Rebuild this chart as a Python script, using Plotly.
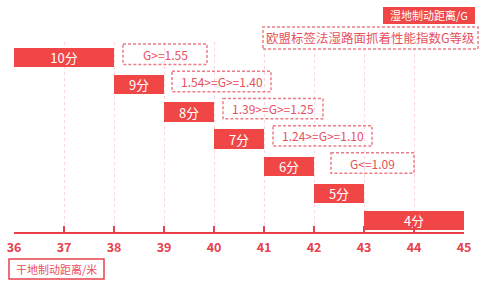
import plotly.graph_objects as go

# ---- data ----
scores = ["10分", "9分", "8分", "7分", "6分", "5分", "4分"]
dry_start = [36, 38, 39, 40, 41, 42, 43]
dry_end = [38, 39, 40, 41, 42, 43, 45]
g_labels = ["G>=1.55", "1.54>=G>=1.40", "1.39>=G>=1.25", "1.24>=G>=1.10", "G<=1.09"]
tick_vals = [36, 37, 38, 39, 40, 41, 42, 43, 44, 45]
title_text = "欧盟标签法湿路面抓着性能指数G等级"
wet_label = "湿地制动距离/G"
dry_label = "干地制动距离/米"

# ---- styles / layout ----
RED = "#F04646"
AXIS_RED = "#E8404C"
PINK_TXT = "#E8505E"
DASH_COL = "#EC7D88"
GRID_COL = "#F8D6DA"
FONT = "Noto Sans CJK SC, Noto Sans, sans-serif"

W, H = 485, 281
L_PX, R_PX = 14, 464
T_PX, B_PX = 42, 232
ROW0, ROW_STEP = 57.5, 27.2

def px_x(p):
    return (p - L_PX) / (R_PX - L_PX)

def px_y(p):
    return (B_PX - p) / (B_PX - T_PX)

rows = list(range(len(scores)))
widths = [e - s for s, e in zip(dry_start, dry_end)]

fig = go.Figure()
fig.add_trace(go.Bar(
    orientation="h",
    y=rows,
    x=widths,
    base=dry_start,
    width=0.72,
    marker=dict(color=RED, line=dict(width=0)),
    text=scores,
    textposition="inside",
    insidetextanchor="middle",
    textfont=dict(color="white", size=13, family=FONT),
    constraintext="none",
    hoverinfo="skip",
))

shapes = []
annotations = []

def ann(xref, yref, x, y, text, color, size):
    return dict(xref=xref, yref=yref, x=x, y=y, text=text, showarrow=False,
                xanchor="center", yanchor="middle",
                font=dict(color=color, size=size, family=FONT))

# dashed G boxes next to bars
box_off = [0.18, 0.16, 0.18, 0.18, 0.34]
box_w = [1.68, 1.98, 2.0, 1.98, 1.66]
for i, lab in enumerate(g_labels):
    x0 = dry_end[i] + box_off[i]
    x1 = x0 + box_w[i]
    yc = i - 0.12
    shapes.append(dict(type="rect", xref="x", yref="y", x0=x0, x1=x1,
                       y0=yc - 0.375, y1=yc + 0.375,
                       line=dict(color=DASH_COL, width=1.5, dash="3px,2px"),
                       fillcolor="rgba(0,0,0,0)"))
    annotations.append(ann("x", "y", (x0 + x1) / 2, yc, lab, PINK_TXT, 12))

# title dashed box
shapes.append(dict(type="rect", xref="paper", yref="paper",
                   x0=px_x(263), x1=px_x(478), y0=px_y(49), y1=px_y(27),
                   line=dict(color=DASH_COL, width=1.5, dash="3px,2px"),
                   fillcolor="white"))
annotations.append(ann("paper", "paper", px_x(370.5), px_y(38), title_text, PINK_TXT, 12.5))

# wet header filled box
shapes.append(dict(type="rect", xref="paper", yref="paper",
                   x0=px_x(383), x1=px_x(475), y0=px_y(24), y1=px_y(7),
                   line=dict(width=0), fillcolor=RED))
annotations.append(ann("paper", "paper", px_x(429), px_y(15.5), wet_label, "white", 11))

# dry label box
shapes.append(dict(type="rect", xref="paper", yref="paper",
                   x0=px_x(9), x1=px_x(104), y0=px_y(279), y1=px_y(259),
                   line=dict(color=AXIS_RED, width=1.5), fillcolor="white"))
annotations.append(ann("paper", "paper", px_x(56.5), px_y(269), dry_label, PINK_TXT, 11))

fig.update_layout(
    width=W, height=H,
    margin=dict(l=L_PX, r=W - R_PX, t=T_PX, b=H - B_PX, pad=0, autoexpand=False),
    paper_bgcolor="white", plot_bgcolor="white",
    showlegend=False,
    bargap=0,
    shapes=shapes,
    annotations=annotations,
    xaxis=dict(
        range=[36, 45], tickvals=tick_vals, ticktext=[str(v) for v in tick_vals],
        showgrid=True, gridcolor=GRID_COL, griddash="dot", gridwidth=1,
        showline=True, linecolor=AXIS_RED, linewidth=2,
        ticks="inside", ticklen=6, tickwidth=1.5, tickcolor=AXIS_RED,
        ticklabelstandoff=3,
        tickfont=dict(color=AXIS_RED, size=12.5, family=FONT, weight=600),
        zeroline=False, fixedrange=True, automargin=False,
    ),
    yaxis=dict(
        range=[(B_PX - ROW0) / ROW_STEP, (T_PX - ROW0) / ROW_STEP],
        visible=False, showgrid=False, zeroline=False, fixedrange=True,
        automargin=False,
    ),
)

fig.write_html("out.html")
